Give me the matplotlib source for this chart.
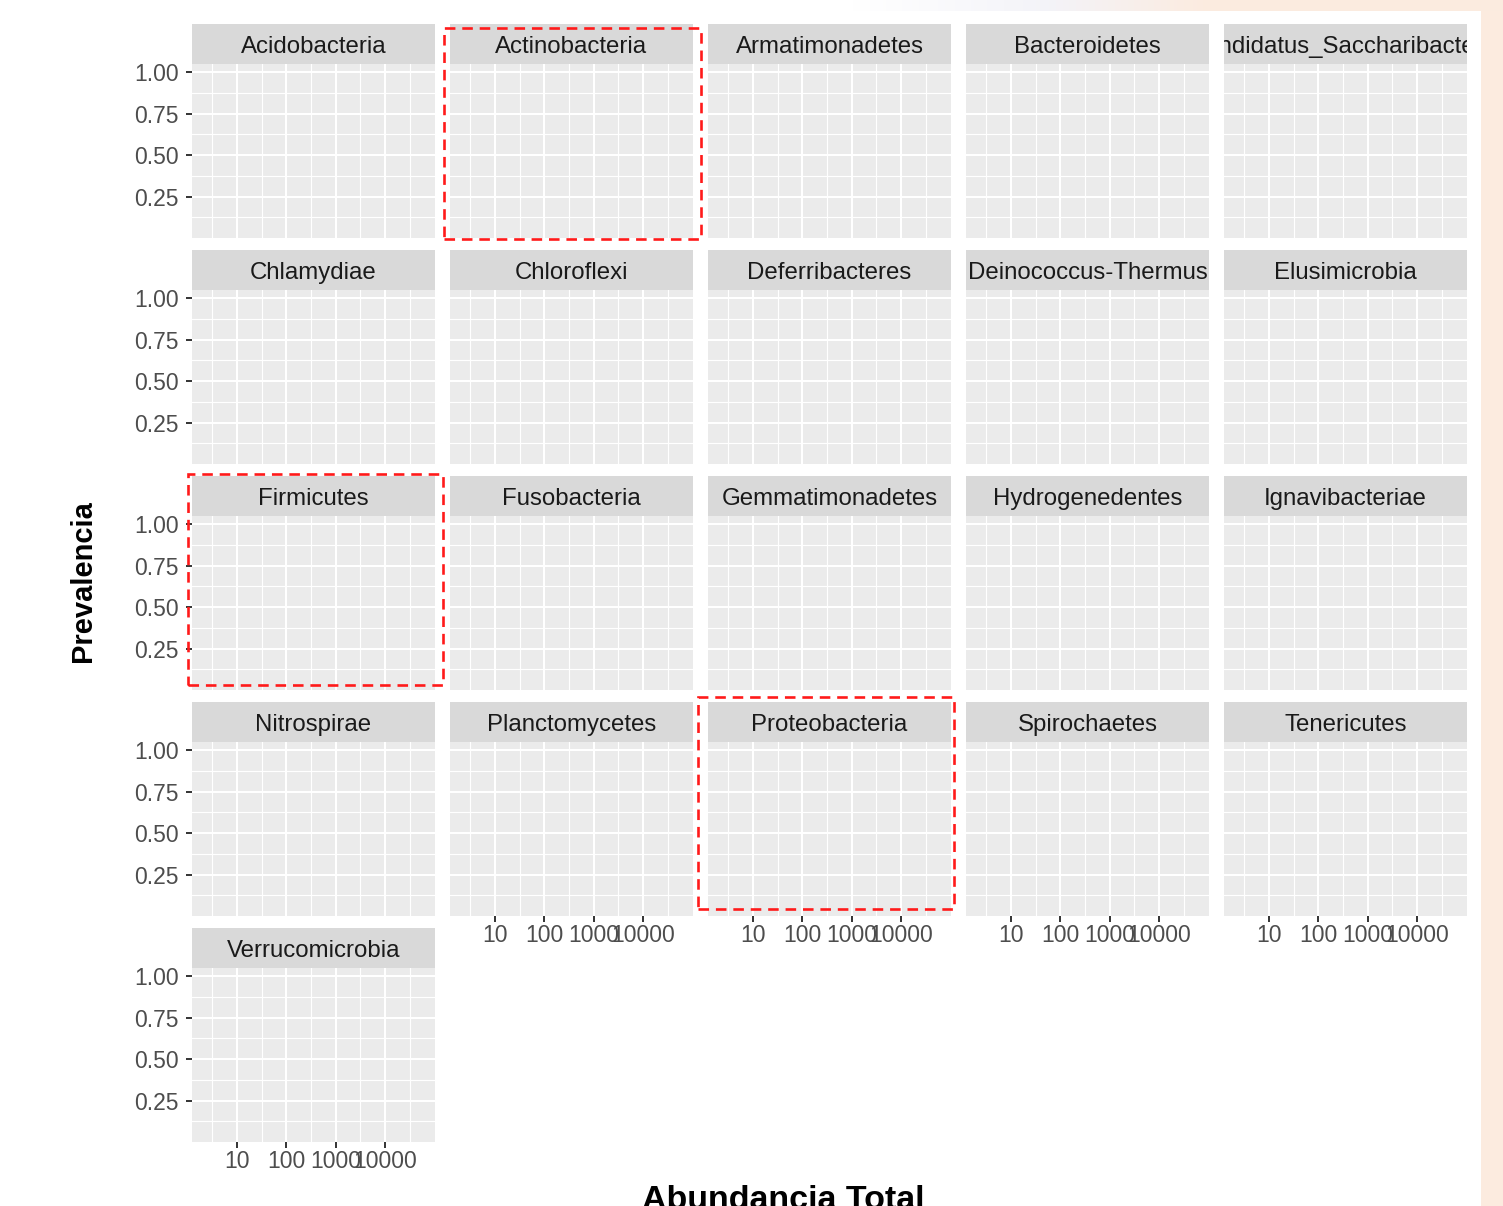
import numpy as np
import matplotlib
matplotlib.use("Agg")
import matplotlib.pyplot as plt
from matplotlib.patches import Rectangle

plt.rcParams['font.family'] = ['Liberation Sans', 'DejaVu Sans']

# facet names (phylum), in facet order
phyla = ["Acidobacteria", "Actinobacteria", "Armatimonadetes", "Bacteroidetes",
         "Candidatus_Saccharibacteria", "Chlamydiae", "Chloroflexi", "Deferribacteres",
         "Deinococcus-Thermus", "Elusimicrobia", "Firmicutes", "Fusobacteria",
         "Gemmatimonadetes", "Hydrogenedentes", "Ignavibacteriae", "Nitrospirae",
         "Planctomycetes", "Proteobacteria", "Spirochaetes", "Tenericutes",
         "Verrucomicrobia"]

# axis breaks / labels
x_breaks = [10, 100, 1000, 10000]
x_labels = ["10", "100", "1000", "10000"]
y_breaks = [0.25, 0.50, 0.75, 1.00]
y_labels = ["0.25", "0.50", "0.75", "1.00"]
x_lim = (10 ** 0.087, 10 ** 5.01)
y_lim = (0.0, 1.05)

# panels marked with a red dashed box
highlighted = ["Actinobacteria", "Firmicutes", "Proteobacteria"]

# ---- layout (pixels) ----
W, H = 1503, 1206
ncol = 5
left0, top0 = 192, 24
pw, strip_h, ph = 243, 40, 174
col_step, row_step = 258, 226

fig = plt.figure(figsize=(W / 100, H / 100), dpi=100)
fig.patch.set_facecolor("white")

# ggplot-like minor breaks (midpoints between breaks)
lx = np.log10(x_breaks)
x_minor = 10 ** np.concatenate([[lx[0] - 0.5], (lx[:-1] + lx[1:]) / 2, [lx[-1] + 0.5]])
x_minor = x_minor[(x_minor > x_lim[0]) & (x_minor < x_lim[1])]
yb = np.array(y_breaks)
y_minor = np.concatenate([[yb[0] - 0.125], (yb[:-1] + yb[1:]) / 2, [yb[-1] + 0.125]])
y_minor = y_minor[(y_minor > y_lim[0]) & (y_minor < y_lim[1])]

panel_boxes = {}
n = len(phyla)
for i, name in enumerate(phyla):
    r, c = divmod(i, ncol)
    left = left0 + c * col_step
    top = top0 + r * row_step
    panel_boxes[name] = (left, top, left + pw, top + strip_h + ph)

    # strip
    sax = fig.add_axes([left / W, 1 - (top + strip_h) / H, pw / W, strip_h / H])
    sax.set_facecolor("#D9D9D9")
    sax.set_xticks([])
    sax.set_yticks([])
    for s in sax.spines.values():
        s.set_visible(False)
    sax.text(0.5, 0.27, name, transform=sax.transAxes, ha="center", va="baseline",
             fontsize=17.3, color="#1A1A1A", clip_on=True)

    # panel
    ax = fig.add_axes([left / W, 1 - (top + strip_h + ph) / H, pw / W, ph / H])
    ax.set_facecolor("#EBEBEB")
    for s in ax.spines.values():
        s.set_visible(False)
    ax.set_xscale("log")
    ax.set_xlim(*x_lim)
    ax.set_ylim(*y_lim)
    ax.set_xticks(x_breaks)
    ax.set_xticklabels(x_labels)
    ax.set_xticks(x_minor, minor=True)
    ax.set_yticks(y_breaks)
    ax.set_yticklabels(y_labels)
    ax.set_yticks(y_minor, minor=True)
    ax.set_axisbelow(True)
    ax.grid(which="major", color="white", linewidth=1.5)
    ax.grid(which="minor", color="white", linewidth=0.8)
    ax.tick_params(which="minor", length=0)
    ax.tick_params(which="major", length=4.3, width=1.4, color="#333333",
                   labelcolor="#4D4D4D", labelsize=16.5)
    ax.tick_params(axis="y", pad=5)
    ax.tick_params(axis="x", pad=1.5)

    show_y = c == 0
    show_x = i + ncol >= n
    ax.tick_params(axis="y", left=show_y, labelleft=show_y)
    ax.tick_params(axis="x", bottom=show_x, labelbottom=show_x)

# axis titles
fig.text(91 / W, 1 - 581 / H, "Prevalencia", rotation=90, rotation_mode="anchor",
         ha="center", va="baseline", fontsize=21, fontweight="bold", color="black")
fig.text(783 / W, 1 - 1209 / H, "Abundancia Total", ha="center", va="baseline",
         fontsize=24.5, fontweight="bold", color="black")

# red dashed boxes (hand-drawn offsets: left, top, right, bottom)
box_pad = {"Actinobacteria": (-6, 4, 8, 1),
           "Firmicutes": (-4, -1.5, 8, -5),
           "Proteobacteria": (-10, -5, 3, -7)}
for name in highlighted:
    l, t, rr, b = panel_boxes[name]
    dl, dt, dr, db = box_pad[name]
    x0, x1 = l + dl, rr + dr
    y0, y1 = t + dt, b + db
    fig.add_artist(Rectangle((x0 / W, 1 - y1 / H), (x1 - x0) / W, (y1 - y0) / H,
                             transform=fig.transFigure, fill=False, edgecolor="#FF1A1A",
                             linewidth=1.9, linestyle=(0, (4, 2.6)), zorder=10))

# screenshot background edges (peach strip on the right, faint band on top)
fig.add_artist(Rectangle((1481 / W, 0), (W - 1481) / W, 1, transform=fig.transFigure,
                         facecolor="#FCEBDF", edgecolor="none", zorder=-1))
bax = fig.add_axes([850 / W, 1 - 11 / H, (W - 850) / W, 11 / H])
bax.axis("off")
xs = np.linspace(0, 1, 200)
c_white = np.array([1.0, 1.0, 1.0])
c_mid = np.array([0.955, 0.955, 0.975])
c_peach = np.array([0.988, 0.922, 0.875])
band = np.where(xs[:, None] < 0.3,
                c_white + (c_mid - c_white) * (xs[:, None] / 0.3),
                c_mid + (c_peach - c_mid) * np.clip((xs[:, None] - 0.3) / 0.25, 0, 1))
bax.imshow(band[None, :, :], aspect="auto", extent=(0, 1, 0, 1))

fig.savefig("out.png", dpi=100)
